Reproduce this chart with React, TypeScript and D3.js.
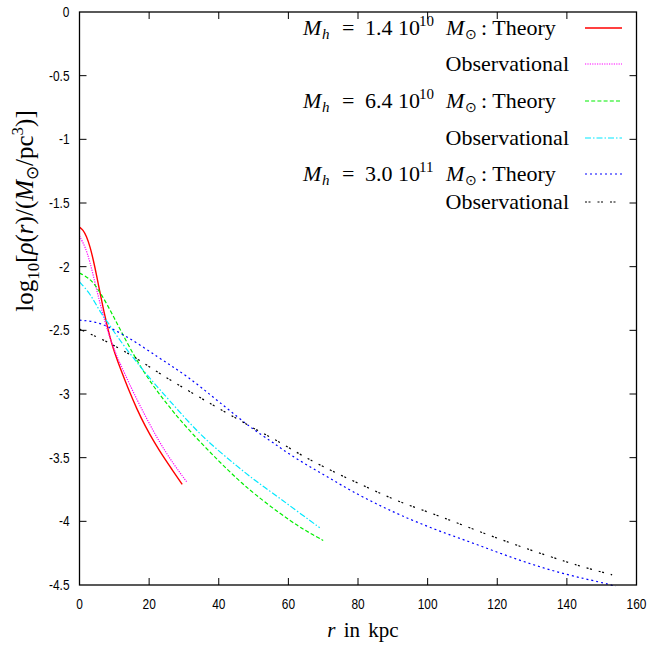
import React from "react";
import * as d3 from "d3";

const xTicks = [0, 20, 40, 60, 80, 100, 120, 140, 160];
const yTicks = [0, -0.5, -1, -1.5, -2, -2.5, -3, -3.5, -4, -4.5];
const yTickLabels = ["0", "-0.5", "-1", "-1.5", "-2", "-2.5", "-3", "-3.5", "-4", "-4.5"];

const redR = [0, 1, 2, 3, 4, 5, 6, 7, 8, 9, 10, 12, 14, 16.5, 19, 21.5, 24, 26.5, 29.5];
const redV = [-1.69, -1.71, -1.76, -1.84, -1.95, -2.08, -2.22, -2.35, -2.47, -2.58, -2.67, -2.82, -2.96, -3.12, -3.26, -3.38, -3.49, -3.59, -3.71];

const magR = [0, 1.6, 3, 4.4, 5.8, 7.3, 8.7, 10.8, 13, 15.5, 19.4, 23.2, 27, 30.8];
const magV = [-1.76, -1.84, -1.96, -2.12, -2.28, -2.43, -2.56, -2.71, -2.84, -2.99, -3.2, -3.39, -3.55, -3.69];

const greenR = [0, 2.7, 4.4, 6.3, 8.2, 10.1, 12, 14.3, 17.2, 20, 22.9, 25.8, 28.7, 34.4, 40.1, 45.4, 50, 57.6, 63, 66, 70];
const greenV = [-2.05, -2.09, -2.14, -2.22, -2.31, -2.41, -2.51, -2.63, -2.77, -2.89, -3.0, -3.1, -3.2, -3.37, -3.53, -3.67, -3.78, -3.94, -4.04, -4.09, -4.15];

const cyanR = [0, 2.7, 4.4, 6.3, 8.2, 10.1, 13, 17, 20, 22.9, 28.7, 34.4, 40.1, 45.4, 50, 53, 57.6, 63, 69];
const cyanV = [-2.12, -2.2, -2.28, -2.37, -2.44, -2.52, -2.63, -2.77, -2.87, -2.96, -3.14, -3.31, -3.45, -3.57, -3.67, -3.73, -3.82, -3.93, -4.05];

const blueR = [0, 4.4, 8.2, 13, 17.7, 22.5, 26.5, 30.8, 35.5, 40, 45.4, 50, 55, 58, 63, 68, 73, 78, 85, 92, 101.6, 111, 120.7, 130, 140, 150, 154];
const blueV = [-2.42, -2.43, -2.47, -2.54, -2.62, -2.71, -2.78, -2.86, -2.96, -3.06, -3.18, -3.28, -3.37, -3.43, -3.52, -3.6, -3.68, -3.76, -3.86, -3.95, -4.06, -4.15, -4.25, -4.34, -4.42, -4.48, -4.51];

const blackR = [0, 4, 8, 12, 17, 23, 31, 38.5, 45, 50, 55, 60, 65, 70, 76, 84, 92, 101.6, 111, 120.7, 130, 140, 146, 153];
const blackV = [-2.49, -2.54, -2.59, -2.65, -2.73, -2.84, -2.97, -3.09, -3.19, -3.27, -3.34, -3.42, -3.5, -3.57, -3.65, -3.75, -3.85, -3.94, -4.04, -4.14, -4.23, -4.32, -4.37, -4.42];

const series = [
  { r: redR, v: redV, color: "#ff0000", dash: "", width: 1.4 },
  { r: magR, v: magV, color: "#ff00ff", dash: "1.2,1.2", width: 1.2 },
  { r: greenR, v: greenV, color: "#00ee00", dash: "4,2.2", width: 1.2 },
  { r: cyanR, v: cyanV, color: "#00e8ff", dash: "6,2,1.5,2", width: 1.2 },
  { r: blueR, v: blueV, color: "#0000ff", dash: "2,3", width: 1.2 },
  { r: blackR, v: blackV, color: "#000000", dash: "2,1.5,2,7", width: 1.2 },
];

const legendMass = ["1.4", "6.4", "3.0"];
const legendExp = ["10", "10", "11"];

export default function App() {
  const W = 667, H = 646;
  const left = 79.5, right = 636.5, top = 12, bottom = 585;
  const x = d3.scaleLinear().domain([0, 160]).range([left, right]);
  const y = d3.scaleLinear().domain([-4.5, 0]).range([bottom, top]);
  const line = d3.line<[number, number]>().x(d => x(d[0])).y(d => y(d[1])).curve(d3.curveBasis);
  const tickFont = "'Liberation Sans', Arial, sans-serif";
  const serif = "'Liberation Serif', 'Times New Roman', serif";
  const tl = 7;
  const textEndObs = 569;
  const lx1 = 585, lx2 = 622;
  const rowsY = [28, 64, 101, 138, 174, 202];
  const tx = 303;

  return (
    <svg width={W} height={H} style={{ position: "absolute", left: 0, top: 0, background: "#fff" }}>
      <rect x={0} y={0} width={W} height={H} fill="#fff" />
      {series.map((s, i) => (
        <path key={i} d={line(s.r.map((r, j) => [r, s.v[j]]) as [number, number][]) || ""}
          fill="none" stroke={s.color} strokeWidth={s.width} strokeDasharray={s.dash || undefined} />
      ))}
      <rect x={left} y={top} width={right - left} height={bottom - top} fill="none" stroke="#000" strokeWidth={1.3} />
      {xTicks.map((t, i) => (
        <g key={"x" + i}>
          {i > 0 && i < xTicks.length - 1 && (
            <>
              <line x1={x(t)} x2={x(t)} y1={bottom} y2={bottom - tl} stroke="#000" />
              <line x1={x(t)} x2={x(t)} y1={top} y2={top + tl} stroke="#000" />
            </>
          )}
          <text transform={`translate(${x(t)},${bottom + 24}) scale(0.85,1)`} textAnchor="middle"
            fontFamily={tickFont} fontSize={14} fill="#000">{t}</text>
        </g>
      ))}
      {yTicks.map((t, i) => (
        <g key={"y" + i}>
          {i > 0 && i < yTicks.length - 1 && (
            <>
              <line x1={left} x2={left + tl} y1={y(t)} y2={y(t)} stroke="#000" />
              <line x1={right} x2={right - tl} y1={y(t)} y2={y(t)} stroke="#000" />
            </>
          )}
          <text transform={`translate(${left - 10},${y(t) + 5}) scale(0.85,1)`} textAnchor="end"
            fontFamily={tickFont} fontSize={14} fill="#000">{yTickLabels[i]}</text>
        </g>
      ))}
      <text x={363} y={637} textAnchor="middle" fontFamily={serif} fontSize={21} fill="#000" wordSpacing={3}>
        <tspan fontStyle="italic">r</tspan> in kpc
      </text>
      <text transform={`translate(33,211) rotate(-90)`} textAnchor="middle" fontFamily={serif} fontSize={25} fill="#000">
        log<tspan fontSize={17} dy={6}>10</tspan><tspan dy={-6}>[</tspan><tspan fontStyle="italic">ρ</tspan>(<tspan fontStyle="italic">r</tspan>)/(<tspan fontStyle="italic">M</tspan><tspan fontSize={17} dy={5}>⊙</tspan><tspan dy={-5}>/pc</tspan><tspan fontSize={17} dy={-10}>3</tspan><tspan dy={10}>)]</tspan>
      </text>
      {series.map((s, i) => {
        const ry = rowsY[i];
        const isTheory = i % 2 === 0;
        const k = Math.floor(i / 2);
        const by = ry + 7;
        return (
          <g key={"lg" + i}>
            <line x1={lx1} x2={lx2} y1={ry} y2={ry} stroke={s.color} strokeWidth={s.width} strokeDasharray={s.dash || undefined} />
            {isTheory ? (
              <text y={by} fontFamily={serif} fontSize={22} fill="#000">
                <tspan x={tx} fontStyle="italic">M</tspan>
                <tspan x={tx + 19} y={by + 4} fontStyle="italic" fontSize={15}>h</tspan>
                <tspan x={tx + 39} y={by}>=</tspan>
                <tspan x={tx + 62}>{legendMass[k]}</tspan>
                <tspan x={tx + 95}>10</tspan>
                <tspan x={tx + 116} y={by - 9} fontSize={15}>{legendExp[k]}</tspan>
                <tspan x={tx + 143} y={by} fontStyle="italic">M</tspan>
                <tspan x={tx + 162} y={by + 4} fontSize={14}>⊙</tspan>
                <tspan x={tx + 178} y={by}>: Theory</tspan>
              </text>
            ) : (
              <text x={textEndObs} y={by} textAnchor="end" fontFamily={serif} fontSize={22} fill="#000">Observational</text>
            )}
          </g>
        );
      })}
    </svg>
  );
}
